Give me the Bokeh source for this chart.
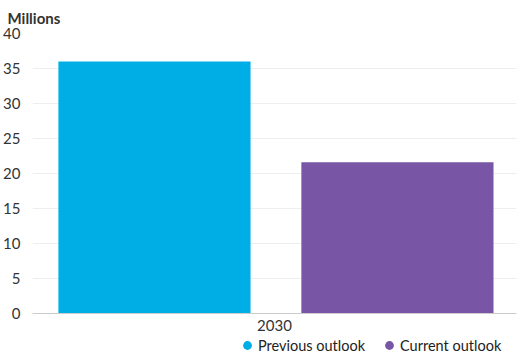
from bokeh.plotting import figure
from bokeh.layouts import column
from bokeh.models import FactorRange, Range1d, ColumnDataSource, Legend, LegendItem, SingleIntervalTicker
from bokeh.transform import dodge
from bokeh.embed import file_html
from bokeh.resources import INLINE

categories = ["2030"]
previous_outlook = [36.0]
current_outlook = [21.6]
series_names = ["Previous outlook", "Current outlook"]
colors = ["#00AEE6", "#7856A5"]

FONT = "Lato"

source = ColumnDataSource(dict(cat=categories, prev=previous_outlook, curr=current_outlook))

p = figure(frame_width=484, frame_height=280, x_range=FactorRange(factors=categories, range_padding=0),
           y_range=Range1d(0, 40), output_backend="svg", toolbar_location=None,
           min_border_left=22, min_border_right=2, min_border_top=25, min_border_bottom=0)

p.vbar(x=dodge("cat", -0.248, range=p.x_range), top="prev", width=0.397, source=source,
       fill_color=colors[0], line_color=None)
p.vbar(x=dodge("cat", 0.254, range=p.x_range), top="curr", width=0.397, source=source,
       fill_color=colors[1], line_color=None)

p.outline_line_color = None
p.background_fill_color = "white"
p.xgrid.grid_line_color = None
p.ygrid.grid_line_color = "#EEEEEE"
p.yaxis.ticker = SingleIntervalTicker(interval=5)
p.yaxis.axis_line_color = None
p.yaxis.major_tick_line_color = None
p.yaxis.minor_tick_line_color = None
p.yaxis.major_label_text_font = FONT
p.yaxis.major_label_text_font_size = "15px"
p.yaxis.major_label_text_color = "#333333"
p.yaxis.major_label_standoff = 6

p.xaxis.axis_line_color = "#CCCCCC"
p.xaxis.major_tick_line_color = None
p.xaxis.minor_tick_line_color = None
p.xaxis.major_tick_out = 0
p.xaxis.major_label_text_font = FONT
p.xaxis.major_label_text_font_size = "15px"
p.xaxis.major_label_text_color = "#333333"
p.xaxis.major_label_standoff = 6

p.title.text = "Millions"
p.title.text_font = FONT
p.title.text_font_size = "15px"
p.title.text_font_style = "bold"
p.title.text_color = "#333333"
p.title.align = "left"
p.title.offset = -25
p.title.standoff = 13

# legend strip
lg = figure(width=508, height=23, x_range=FactorRange(factors=categories, range_padding=0),
            y_range=Range1d(0, 40), output_backend="svg", toolbar_location=None,
            min_border=0, outline_line_color=None)
lg.axis.visible = False
lg.grid.visible = False
m1 = lg.scatter(x=dodge("cat", -0.248, range=lg.x_range), y="prev", size=0, source=source,
                fill_color=colors[0], line_color=None, marker="circle")
m2 = lg.scatter(x=dodge("cat", 0.254, range=lg.x_range), y="curr", size=0, source=source,
                fill_color=colors[1], line_color=None, marker="circle")

legend = Legend(items=[LegendItem(label=series_names[0], renderers=[m1]),
                       LegendItem(label=series_names[1], renderers=[m2])],
                orientation="horizontal", location=(204, 0),
                label_text_font=FONT, label_text_font_size="14.5px", label_text_color="#222222",
                glyph_width=22, glyph_height=22, spacing=13, label_standoff=-2,
                border_line_color=None, background_fill_alpha=0, padding=0, margin=0)
lg.add_layout(legend)

layout = column(p, lg, spacing=0)
open("out.html", "w").write(file_html(layout, INLINE))
